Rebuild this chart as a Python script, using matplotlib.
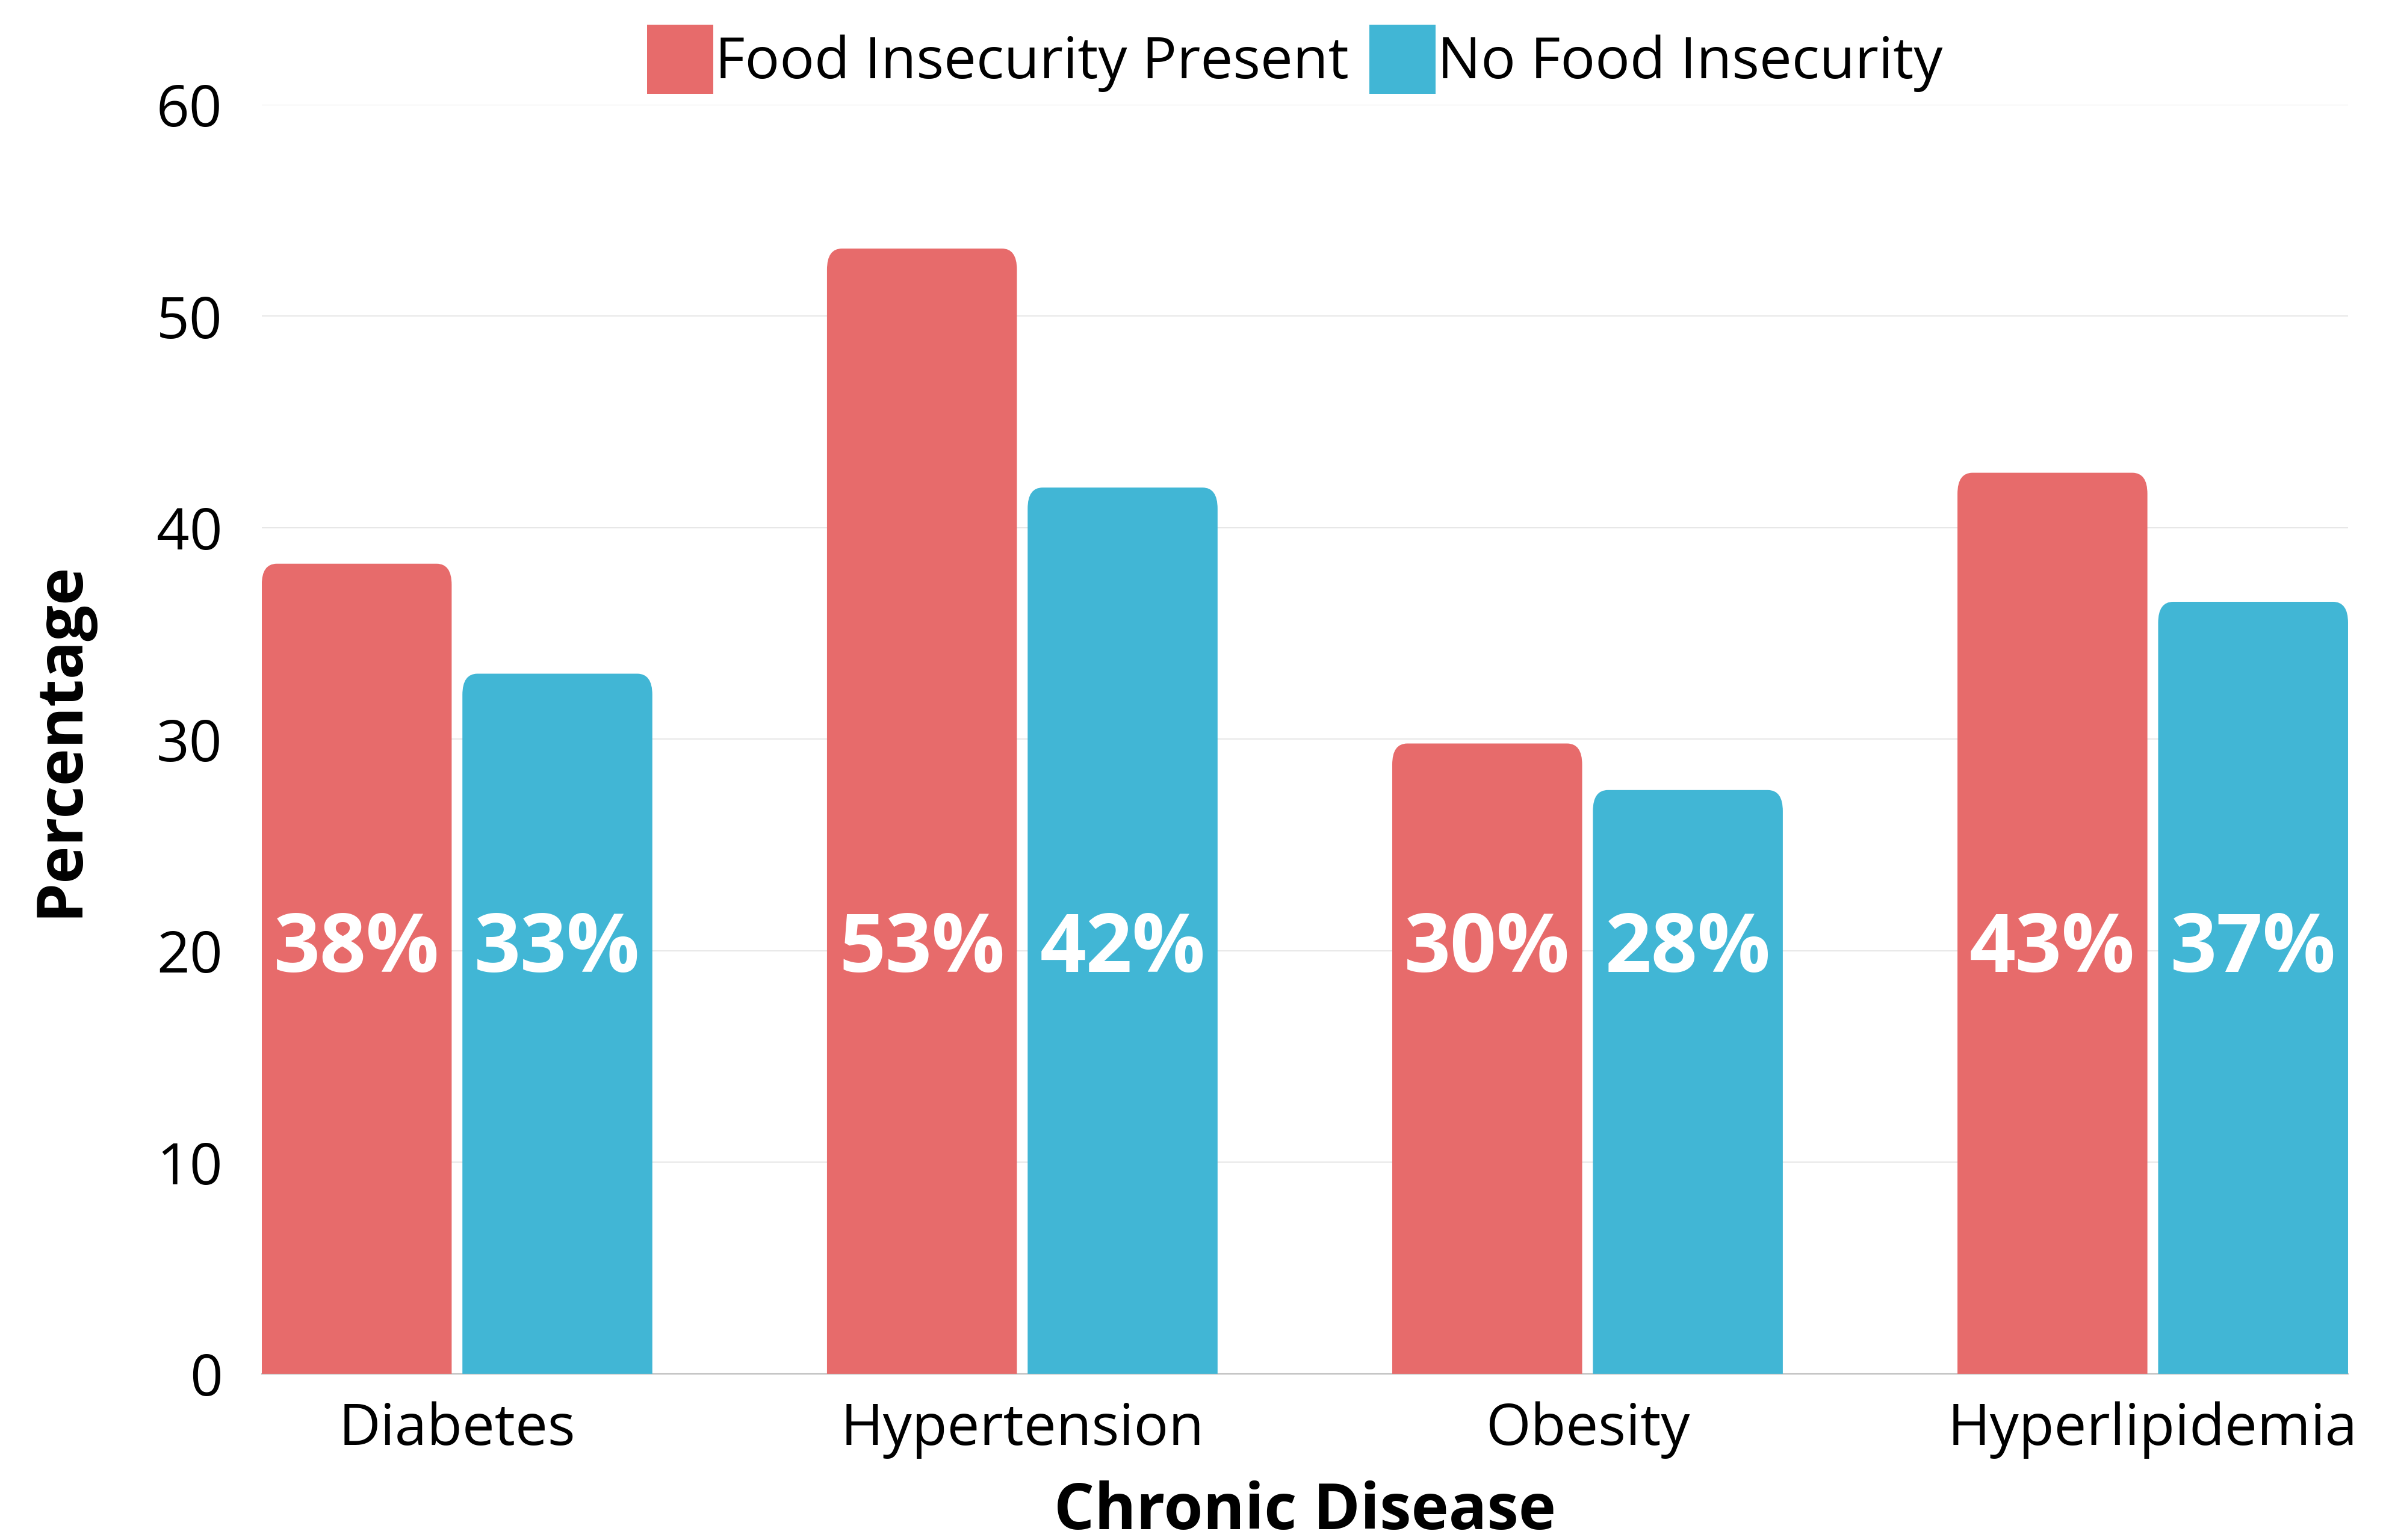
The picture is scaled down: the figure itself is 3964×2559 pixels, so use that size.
import matplotlib
matplotlib.use("Agg")
import matplotlib.pyplot as plt
from matplotlib.path import Path
from matplotlib.patches import PathPatch, Patch
import numpy as np
import math

categories = ["Diabetes", "Hypertension", "Obesity", "Hyperlipidemia"]
food_insecure = [38.3, 53.2, 29.8, 42.6]
no_food_insecure = [33.1, 41.9, 27.6, 36.5]
series_names = ["Food Insecurity Present", "No Food Insecurity"]
yticks = [0, 10, 20, 30, 40, 50, 60]

RED = "#E76B6B"
BLUE = "#41B6D5"

plt.rcParams['font.family'] = ['Open Sans', 'DejaVu Sans']

W, H = 3964, 2559
fig = plt.figure(figsize=(W / 100, H / 100), dpi=100)
ax = fig.add_axes([0.1097, 0.1079, 0.8744, 0.8241])

x = np.arange(len(categories))
bw = 0.336
off = 0.1775
xlim = (-0.3455, 3.3455)
ylim = (0, 60)
ax.set_xlim(*xlim)
ax.set_ylim(*ylim)

ax_px_w = 0.8744 * W
ax_px_h = 0.8241 * H
rx = 25 / (ax_px_w / (xlim[1] - xlim[0]))
ry = 35 / (ax_px_h / (ylim[1] - ylim[0]))


def rounded(rect, color):
    x0, y0 = rect.get_x(), rect.get_y()
    w, h = rect.get_width(), rect.get_height()
    top = y0 + h
    verts = [(x0, y0), (x0, top - ry), (x0, top), (x0 + rx, top),
             (x0 + w - rx, top), (x0 + w, top), (x0 + w, top - ry),
             (x0 + w, y0), (x0, y0)]
    codes = [Path.MOVETO, Path.LINETO, Path.CURVE3, Path.CURVE3,
             Path.LINETO, Path.CURVE3, Path.CURVE3, Path.LINETO, Path.CLOSEPOLY]
    rect.set_visible(False)
    ax.add_patch(PathPatch(Path(verts, codes), facecolor=color,
                           edgecolor='none', zorder=3))


def pct(v):
    return f"{int(math.floor(v + 0.5))}%"


bars1 = ax.bar(x - off, food_insecure, bw, color=RED, zorder=3)
bars2 = ax.bar(x + off, no_food_insecure, bw, color=BLUE, zorder=3)
for r in bars1:
    rounded(r, RED)
for r in bars2:
    rounded(r, BLUE)

for xi, v in zip(x - off, food_insecure):
    ax.text(xi, 20, pct(v), ha='center', va='center', color='white',
            fontsize=97, fontweight='bold', zorder=5)
for xi, v in zip(x + off, no_food_insecure):
    ax.text(xi, 20, pct(v), ha='center', va='center', color='white',
            fontsize=97, fontweight='bold', zorder=5)

ax.set_yticks(yticks)
ax.set_xticks(x)
ax.set_xticklabels(categories)
ax.tick_params(axis='both', length=0, labelsize=69, colors='black')
ax.tick_params(axis='y', pad=47)
ax.tick_params(axis='x', pad=33)
ax.yaxis.grid(True, color='#e3e3e3', linewidth=1.2, zorder=0)
ax.set_axisbelow(True)
for s in ['top', 'right', 'left']:
    ax.spines[s].set_visible(False)
ax.spines['bottom'].set_color('#bbbbbb')
ax.spines['bottom'].set_linewidth(1.5)

ax.set_xlabel("Chronic Disease", fontsize=76, fontweight='bold')
ax.set_ylabel("Percentage", fontsize=76, fontweight='bold')
ax.xaxis.label.set_va('center')
ax.yaxis.label.set_va('center')
ax.xaxis.set_label_coords(0.5, -0.109)
ax.yaxis.set_label_coords(-0.0964, 0.5)

handles = [Patch(facecolor=RED, edgecolor='none'),
           Patch(facecolor=BLUE, edgecolor='none')]
fig.legend(handles, series_names, loc='center', bbox_to_anchor=(0.5427, 0.9615),
           ncol=2, frameon=False, fontsize=69, handlelength=1.15,
           handleheight=1.47, handletextpad=0.03, columnspacing=0.35,
           borderaxespad=0)

fig.savefig("out.png", dpi=100, facecolor='white')
